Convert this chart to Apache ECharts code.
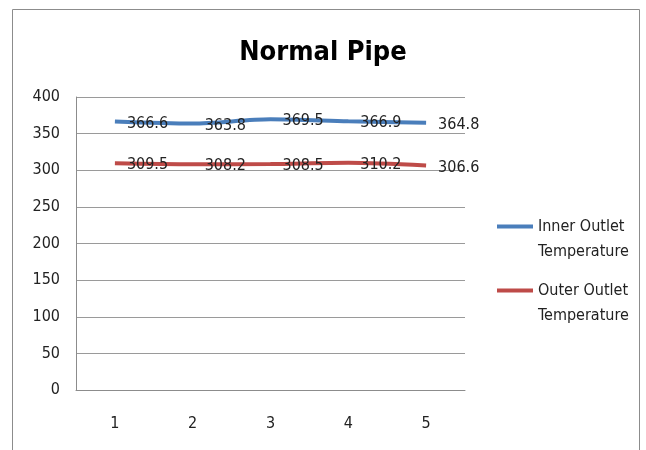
<!DOCTYPE html>
<html>
<head>
<meta charset="utf-8">
<script src="https://cdn.jsdelivr.net/npm/echarts@6/dist/echarts.min.js"></script>
<style>
    html, body { margin: 0; padding: 0; background: #fff; }
    #main { width: 646px; height: 450px; }
</style>
</head>
<body>
<div id="main"></div>
<script>
const categories = ['1', '2', '3', '4', '5'];
const innerOutlet = [366.6, 363.8, 369.5, 366.9, 364.8];
const outerOutlet = [309.5, 308.2, 308.5, 310.2, 306.6];
const seriesNames = ['Inner Outlet\nTemperature', 'Outer Outlet\nTemperature'];

const font = '"Liberation Sans Narrow", "DejaVu Sans Condensed", sans-serif';

const chart = echarts.init(document.getElementById('main'));

function lineSeries(name, data, color) {
    return {
        name: name,
        type: 'line',
        data: data,
        smooth: 0.3,
        symbol: 'circle',
        symbolSize: 0,
        lineStyle: { color: color, width: 4 },
        itemStyle: { color: color },
        label: {
            show: true,
            position: 'right',
            distance: 12,
            offset: [0, 2],
            color: '#222',
            fontFamily: font,
            fontSize: 16
        }
    };
}

chart.setOption({
    animation: false,
    title: {
        text: 'Normal Pipe',
        left: 'center',
        top: 34,
        textStyle: { fontFamily: font, fontWeight: 'bold', fontSize: 27, color: '#000' }
    },
    // 外框
    graphic: [{
        type: 'rect',
        shape: { x: 12.5, y: 9.5, width: 627, height: 460 },
        style: { fill: 'none', stroke: '#8c8c8c', lineWidth: 1 }
    }],
    grid: { left: 76, top: 97, width: 389, height: 293 },
    legend: {
        orient: 'vertical',
        left: 492,
        top: 184,
        itemGap: -11,
        itemWidth: 36,
        itemHeight: 4,
        icon: 'rect',
        // 空行在上，让图标对齐第一行文字
        formatter: name => ' \n' + name,
        textStyle: { fontFamily: font, fontSize: 16, color: '#222', lineHeight: 25 },
        data: seriesNames
    },
    xAxis: {
        type: 'category',
        data: categories,
        boundaryGap: true,
        axisLine: { lineStyle: { color: '#8c8c8c' } },
        axisTick: { show: false },
        axisLabel: { fontFamily: font, fontSize: 16, color: '#222', margin: 26 }
    },
    yAxis: {
        type: 'value',
        min: 0,
        max: 400,
        interval: 50,
        axisLine: { show: true, lineStyle: { color: '#8c8c8c' } },
        axisTick: { show: false },
        splitLine: { lineStyle: { color: '#9a9a9a' } },
        axisLabel: { fontFamily: font, fontSize: 16, color: '#222', margin: 16 }
    },
    series: [
        lineSeries(seriesNames[0], innerOutlet, '#4a7ebb'),
        lineSeries(seriesNames[1], outerOutlet, '#be4b48')
    ]
});
</script>
</body>
</html>
